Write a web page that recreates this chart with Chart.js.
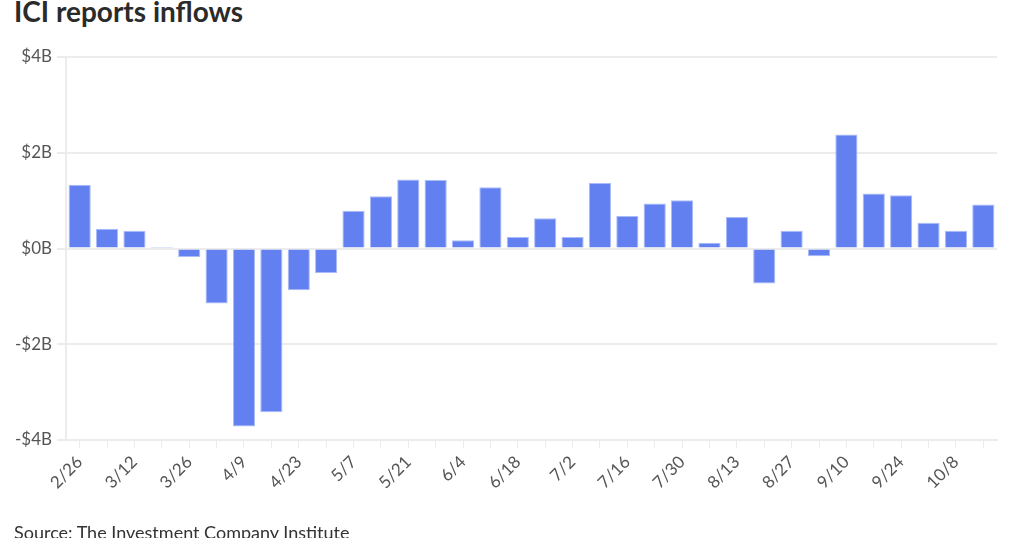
<!DOCTYPE html>
<html>
<head>
<meta charset="utf-8">
<script src="https://cdn.jsdelivr.net/npm/chart.js@4"></script>
<style>
  html, body { margin: 0; padding: 0; background: #fff; }
  body { width: 1024px; height: 538px; position: relative; overflow: hidden; font-family: Lato, sans-serif; }
  #title { position: absolute; left: 14px; top: -3px; font: bold 28px/28px Lato, sans-serif; color: #2b2b2b; white-space: nowrap; }
  #source { position: absolute; left: 14px; top: 521px; font: 18px/22px Lato, sans-serif; color: #333; white-space: nowrap; }
  #wrap { position: absolute; left: 0; top: 0; width: 1024px; height: 538px; }
</style>
</head>
<body>
<div id="title">ICI reports inflows</div>
<div id="wrap"><canvas id="c" width="1024" height="538"></canvas></div>
<div id="source">Source: The Investment Company Institute</div>
<script>
const categories = ["2/26","3/5","3/12","3/19","3/26","4/2","4/9","4/16","4/23","4/30","5/7","5/14","5/21","5/28","6/4","6/11","6/18","6/25","7/2","7/9","7/16","7/23","7/30","8/6","8/13","8/20","8/27","9/3","9/10","9/17","9/24","10/1","10/8","10/15"];
const inflowsB = [1.33,0.41,0.37,0.03,-0.18,-1.15,-3.72,-3.42,-0.87,-0.51,0.79,1.09,1.44,1.43,0.17,1.28,0.24,0.63,0.24,1.37,0.68,0.94,1.01,0.12,0.66,-0.73,0.37,-0.16,2.38,1.15,1.11,0.54,0.37,0.92];
const yTickValues = [4,2,0,-2,-4];
const yTickLabels = ["$4B","$2B","$0B","-$2B","-$4B"];

const gridColor = '#ececec';
new Chart(document.getElementById('c'), {
  type: 'bar',
  data: {
    labels: categories,
    datasets: [{
      data: inflowsB,
      backgroundColor: 'rgb(98,128,240)',
      borderColor: 'rgba(170,188,248,1)',
      borderWidth: 1,
      barPercentage: 0.81,
      categoryPercentage: 1.0
    }]
  },
  options: {
    responsive: false,
    animation: false,
    devicePixelRatio: 1,
    layout: { padding: { left: 0, right: 27, top: 57, bottom: 28 } },
    plugins: { legend: { display: false }, tooltip: { enabled: false } },
    scales: {
      x: {
        offset: true,
        grid: { display: true, drawOnChartArea: false, drawTicks: true, tickLength: 8, color: gridColor, offset: false },
        border: { display: true, color: gridColor, width: 2 },
        ticks: {
          autoSkip: false,
          maxRotation: 45,
          minRotation: 45,
          padding: 4,
          color: '#555',
          font: { family: 'Lato', size: 17 },
          callback: function(v, i) { return i % 2 === 0 ? categories[i] : ''; }
        },
        afterFit: function(s) { s.height = 70; }
      },
      y: {
        min: -4,
        max: 4,
        afterBuildTicks: function(s) { s.ticks = yTickValues.map(v => ({ value: v })); },
        grid: { color: gridColor, lineWidth: 2, drawTicks: true, tickLength: 9 },
        border: { display: true, color: gridColor, width: 2 },
        ticks: {
          padding: 5,
          color: '#555',
          font: { family: 'Lato', size: 17 },
          callback: function(v) { const i = yTickValues.indexOf(v); return i >= 0 ? yTickLabels[i] : ''; }
        },
        afterFit: function(s) { s.width = 66; }
      }
    }
  }
});
</script>
</body>
</html>
